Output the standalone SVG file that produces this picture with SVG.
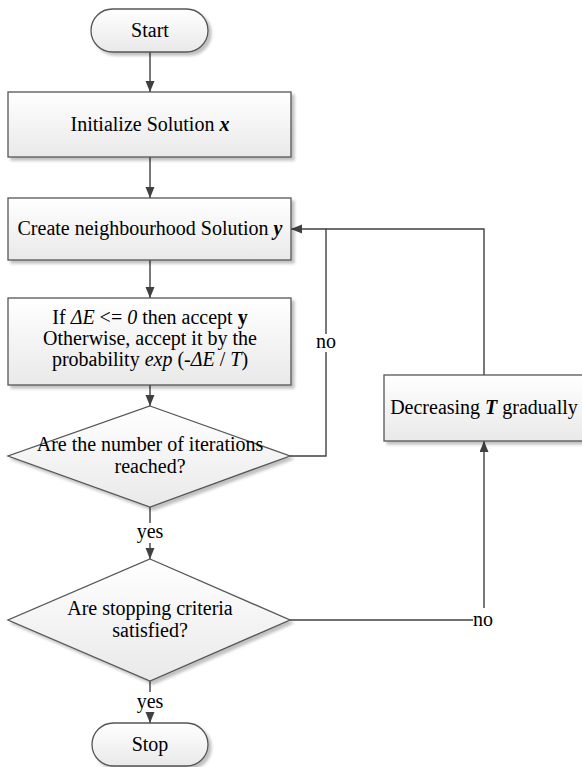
<svg xmlns="http://www.w3.org/2000/svg" width="582" height="767" viewBox="0 0 582 767">
<defs>
<linearGradient id="g" x1="0" y1="0" x2="0" y2="1">
<stop offset="0" stop-color="#ffffff"/>
<stop offset="1" stop-color="#e9e9e9"/>
</linearGradient>
<filter id="sh" x="-10%" y="-10%" width="130%" height="130%">
<feGaussianBlur in="SourceAlpha" stdDeviation="1.5"/>
<feOffset dx="2.5" dy="2.5" result="b"/>
<feComponentTransfer><feFuncA type="linear" slope="0.25"/></feComponentTransfer>
<feMerge><feMergeNode/><feMergeNode in="SourceGraphic"/></feMerge>
</filter>
<marker id="ah" markerUnits="userSpaceOnUse" markerWidth="11" markerHeight="10" refX="11" refY="4.5" orient="auto">
<path d="M0,0 L11,4.5 L0,9 z" fill="#404040"/>
</marker>
</defs>
<style>
.n{fill:url(#g);stroke:#555;stroke-width:1.3;filter:url(#sh)}
.c{fill:none;stroke:#404040;stroke-width:1.4}
.t{font-size:20px;fill:#000;text-anchor:middle}
.bi{font-weight:bold;font-style:italic}
.i{font-style:italic}
</style>
<g font-family="Liberation Serif, DejaVu Serif, serif">
<g id="connectors">
<line class="c" x1="150" y1="52" x2="150" y2="92" marker-end="url(#ah)"/>
<line class="c" x1="150" y1="157" x2="150" y2="198" marker-end="url(#ah)"/>
<line class="c" x1="150" y1="260" x2="150" y2="298" marker-end="url(#ah)"/>
<line class="c" x1="150" y1="385" x2="150" y2="406" marker-end="url(#ah)"/>
<line class="c" x1="150" y1="507" x2="150" y2="523"/>
<line class="c" x1="150" y1="543" x2="150" y2="559" marker-end="url(#ah)"/>
<text class="t" x="150" y="538">yes</text>
<polyline class="c" points="290,456 326,456 326,229 291,229" marker-end="url(#ah)"/>
<rect x="316" y="334" width="20" height="18" fill="#fff"/>
<text class="t" x="326" y="348">no</text>
<polyline class="c" points="484,375 484,229 326,229"/>
<line class="c" x1="150" y1="681" x2="150" y2="692"/>
<line class="c" x1="150" y1="712" x2="150" y2="723" marker-end="url(#ah)"/>
<text class="t" x="150" y="708">yes</text>
<line class="c" x1="290" y1="620" x2="473" y2="620"/>
<text class="t" x="483" y="626">no</text>
<line class="c" x1="484" y1="608" x2="484" y2="441" marker-end="url(#ah)"/>
</g>
<g id="start">
<rect class="n" x="91" y="9" width="117" height="43" rx="21.5"/>
<text class="t" x="150" y="37">Start</text>
</g>
<g id="init">
<rect class="n" x="8" y="92" width="283" height="65"/>
<text class="t" x="150" y="131">Initialize Solution <tspan class="bi">x</tspan></text>
</g>
<g id="create">
<rect class="n" x="8" y="198" width="283" height="62"/>
<text class="t" x="150" y="235">Create neighbourhood Solution <tspan class="bi">y</tspan></text>
</g>
<g id="accept">
<rect class="n" x="8" y="298" width="283" height="87"/>
<text class="t" x="150" y="324">If <tspan class="i">ΔE</tspan> &lt;= <tspan class="i">0</tspan> then accept <tspan font-weight="bold">y</tspan></text>
<text class="t" x="150" y="345">Otherwise, accept it by the</text>
<text class="t" x="150" y="366">probability <tspan class="i">exp</tspan> (-<tspan class="i">ΔE</tspan> / <tspan class="i">T</tspan>)</text>
</g>
<g id="iter">
<polygon class="n" points="150,406 290,456 150,507 8,456"/>
<text class="t" x="150" y="451">Are the number of iterations</text>
<text class="t" x="150" y="473">reached?</text>
</g>
<g id="stopcrit">
<polygon class="n" points="150,559 290,620 150,681 8,620"/>
<text class="t" x="150" y="615">Are stopping criteria</text>
<text class="t" x="150" y="637">satisfied?</text>
</g>
<g id="decrease">
<rect class="n" x="384" y="375" width="200" height="66"/>
<text class="t" x="484" y="414">Decreasing <tspan class="bi">T</tspan> gradually</text>
</g>
<g id="stop">
<rect class="n" x="92" y="723" width="116" height="43" rx="21.5"/>
<text class="t" x="150" y="751">Stop</text>
</g>
</g>
</svg>
